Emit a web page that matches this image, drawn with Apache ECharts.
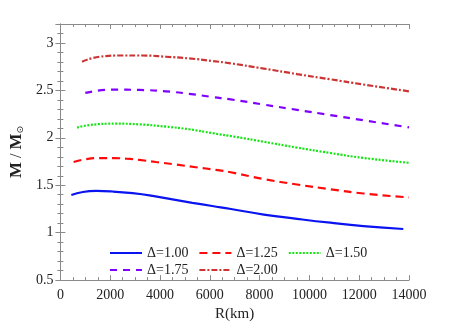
<!DOCTYPE html>
<html lang="en">
<head>
<meta charset="utf-8" />
<title>M-R curves</title>
<script src="https://cdn.jsdelivr.net/npm/echarts@6/dist/echarts.min.js"></script>
<style>
  html, body { margin: 0; padding: 0; background: #fff; }
</style>
</head>
<body>
<div id="main" style="width: 452px;height:327px;"></div>
<script type="text/javascript">

// radius (km) and mass (M/Msun)
var r100 = [440, 900, 1440, 2100, 2900, 3700, 4500, 5300, 6100, 6850, 8170, 9500, 10840, 12170, 13770];
var m100 = [1.398, 1.429, 1.440, 1.434, 1.416, 1.388, 1.351, 1.315, 1.281, 1.250, 1.191, 1.146, 1.105, 1.070, 1.039];

var r125 = [530, 1040, 1570, 2110, 2640, 3170, 3840, 4640, 5440, 6240, 6840, 8170, 9500, 10840, 12170, 14000];
var m125 = [1.745, 1.776, 1.786, 1.786, 1.780, 1.767, 1.745, 1.718, 1.690, 1.662, 1.637, 1.565, 1.508, 1.458, 1.413, 1.372];

var r150 = [670, 1170, 2240, 3170, 4240, 5170, 6110, 7040, 8170, 9500, 10840, 12170, 14000];
var m150 = [2.108, 2.135, 2.149, 2.142, 2.118, 2.090, 2.049, 2.010, 1.958, 1.897, 1.840, 1.788, 1.737];

var r175 = [1000, 2110, 3170, 4240, 5170, 6110, 6840, 8170, 9500, 10840, 12170, 14000];
var m175 = [2.474, 2.508, 2.505, 2.490, 2.464, 2.430, 2.405, 2.350, 2.295, 2.240, 2.185, 2.110];

var r200 = [870, 1570, 2500, 3300, 4240, 5170, 6110, 6840, 8170, 9500, 10840, 12170, 14000];
var m200 = [2.803, 2.855, 2.868, 2.868, 2.855, 2.837, 2.810, 2.785, 2.730, 2.672, 2.617, 2.562, 2.490];

var names = ['\u0394=1.00', '\u0394=1.25', '\u0394=1.50', '\u0394=1.75', '\u0394=2.00'];

function pairs(xs, ys) {
    return xs.map(function (x, i) { return [x, ys[i]]; });
}

var FONT = 'Liberation Serif';
var GRAY = '#8a8a8a';

function xAx(pos, labels) {
    return {
        type: 'value', position: pos, min: 0, max: 14000, interval: 2000,
        axisLine: { show: true, lineStyle: { color: GRAY, width: 1 } },
        axisTick: { show: true, inside: true, length: 5, lineStyle: { color: GRAY } },
        minorTick: { show: true, splitNumber: 4, length: 3, lineStyle: { color: GRAY } },
        splitLine: { show: false },
        axisLabel: {
            show: labels, fontFamily: FONT, fontSize: 14, color: '#222', margin: 8,
            formatter: function (v) { return String(v); }
        }
    };
}
function yAx(pos, labels) {
    return {
        type: 'value', position: pos, min: 0.5, max: 3.2, interval: 0.5,
        axisLine: { show: true, lineStyle: { color: GRAY, width: 1 } },
        axisTick: { show: true, inside: true, length: 5, lineStyle: { color: GRAY } },
        minorTick: { show: true, splitNumber: 5, length: 3, lineStyle: { color: GRAY } },
        splitLine: { show: false },
        axisLabel: { show: labels, showMaxLabel: false, fontFamily: FONT, fontSize: 14, color: '#222', margin: 7 }
    };
}

var xBottom = xAx('bottom', true);
xBottom.name = 'R(km)';
xBottom.nameLocation = 'middle';
xBottom.nameGap = 20;
xBottom.nameTextStyle = { fontFamily: FONT, fontSize: 15, color: '#222' };

var yLeft = yAx('left', true);
yLeft.name = '{m|M} / {m|M}{s|\u2299}';
yLeft.nameLocation = 'middle';
yLeft.nameGap = 22;
yLeft.nameTextStyle = {
    fontFamily: FONT, fontSize: 16, color: '#222',
    rich: {
        m: { fontFamily: FONT, fontSize: 17, fontWeight: 'bold', color: '#222' },
        s: { fontFamily: 'DejaVu Sans', fontSize: 9, color: '#222', verticalAlign: 'bottom', padding: [5, 0, 0, 0] }
    }
};

function line(name, xs, ys, color, dash, w) {
    return {
        name: name, type: 'line', smooth: true, symbol: 'none',
        xAxisIndex: 0, yAxisIndex: 0,
        data: pairs(xs, ys),
        lineStyle: { color: color, width: w, type: dash, cap: 'butt' },
        itemStyle: { color: color }
    };
}

var myChart = echarts.init(document.getElementById('main'));

var legendBase = {
    left: 109, itemWidth: 32, itemHeight: 12, itemGap: 10, padding: 0,
    itemStyle: { color: 'rgba(0,0,0,0)', borderWidth: 0, opacity: 0 },
    textStyle: { fontFamily: FONT, fontSize: 14, color: '#222' }
};

option = {
    animation: false,
    grid: { left: 59, right: 43, top: 24, bottom: 43 },
    xAxis: [xBottom, xAx('top', false)],
    yAxis: [yLeft, yAx('right', false)],
    legend: [
        Object.assign({}, legendBase, { top: 246, data: [names[0], names[1], names[2]] }),
        Object.assign({}, legendBase, { top: 263, data: [names[3], names[4]] })
    ],
    series: [
        line(names[0], r100, m100, '#0a14f0', 'solid', 2.2),
        line(names[1], r125, m125, '#ff0a0a', [8, 5], 2.2),
        line(names[2], r150, m150, '#14e614', [2, 1.5], 2.2),
        line(names[3], r175, m175, '#8000ff', [7, 6], 2.2),
        line(names[4], r200, m200, '#cc3333', [6, 2, 2, 2], 2.2)
    ]
};

myChart.setOption(option);

</script>
</body>
</html>
